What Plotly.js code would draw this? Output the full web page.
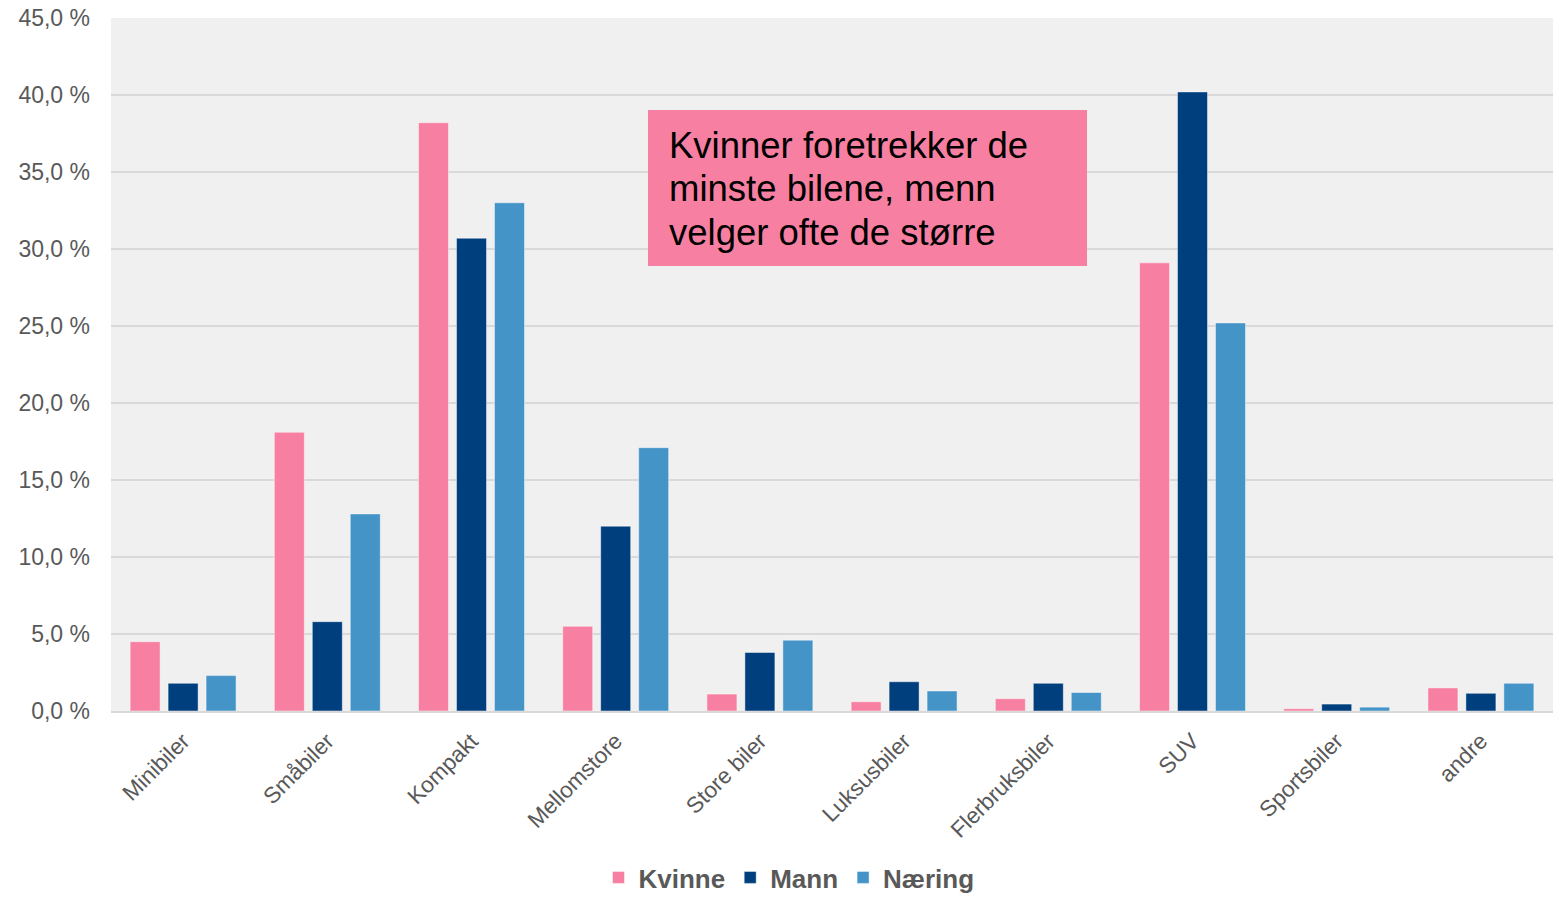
<!DOCTYPE html>
<html>
<head>
<meta charset="utf-8">
<script src="https://cdn.plot.ly/plotly-3.0.1.min.js"></script>
<style>html,body{margin:0;padding:0;background:#fff;}#chart{width:1553px;height:901px;}</style>
</head>
<body>
<div id="chart"></div>
<script>
const categories = ["Minibiler","Småbiler","Kompakt","Mellomstore","Store biler","Luksusbiler","Flerbruksbiler","SUV","Sportsbiler","andre"];
const kvinne = [4.5, 18.1, 38.2, 5.5, 1.1, 0.6, 0.8, 29.1, 0.15, 1.5];
const mann   = [1.8, 5.8, 30.7, 12.0, 3.8, 1.9, 1.8, 40.2, 0.45, 1.15];
const naering= [2.3, 12.8, 33.0, 17.1, 4.6, 1.3, 1.2, 25.2, 0.25, 1.8];
const seriesNames = ["Kvinne","Mann","Næring"];
const yTicks = [0,5,10,15,20,25,30,35,40,45];
const yTickText = yTicks.map(v => v.toFixed(1).replace(".", ",") + " %");
const annotationLines = ["Kvinner foretrekker de","minste bilene, menn","velger ofte de større"];

const colors = ["#F780A2","#003F7D","#4594C7"];
const data = [kvinne, mann, naering].map((vals,i)=>({
  type:"bar", name:seriesNames[i], x:categories, y:vals,
  marker:{color:colors[i], line:{color:"rgba(255,255,255,0.45)", width:1}},
  hoverinfo:"skip"
}));

// plot area geometry (pixels) used to place the text box
const plotTop = 18, plotBottom = 711, plotLeft = 111, plotW = 1442;
const py = p => (plotBottom - p) / (plotBottom - plotTop);
const px = p => (p - plotLeft) / plotW;

const annotations = annotationLines.map((t,i)=>({
  xref:"paper", yref:"paper", x:px(667), y:py(145 + 44*i), xanchor:"left", yanchor:"middle",
  text:t, showarrow:false, align:"left",
  font:{size:36.5, color:"#000000", family:"Liberation Sans, Arial, sans-serif"}
}));

const layout = {
  width:1553, height:901,
  margin:{l:111, r:0, t:18, b:190},
  paper_bgcolor:"#ffffff",
  plot_bgcolor:"#f0f0f0",
  font:{family:"Liberation Sans, Arial, sans-serif", color:"#595959"},
  barmode:"group",
  bargap:0.21,
  bargroupgap:0.21,
  showlegend:true,
  legend:{orientation:"h", xref:"container", yref:"container", x:789/1553, xanchor:"center",
    y:0, yanchor:"bottom",
    font:{size:26, color:"#595959", family:"Liberation Sans, Arial, sans-serif", weight:"bold"},
    itemwidth:30, traceorder:"normal"},
  xaxis:{type:"category", tickangle:-45, tickfont:{size:22.5, color:"#595959"},
    showgrid:false, showline:true, linecolor:"#d9d9d9", linewidth:2, ticks:"",
    ticklabelstandoff:6, automargin:false},
  yaxis:{range:[0,45], tickmode:"array", tickvals:yTicks, ticktext:yTickText,
    tickfont:{size:23, color:"#595959"}, gridcolor:"#d9d9d9", gridwidth:2,
    zeroline:false, showline:false, ticks:"", ticklabelstandoff:20, automargin:false},
  shapes:[{type:"rect", xref:"paper", yref:"paper", x0:px(648), x1:px(1087), y0:py(266), y1:py(110),
    fillcolor:"#F780A2", line:{width:0}, layer:"above"}],
  annotations:annotations
};
Plotly.newPlot("chart", data, layout, {displayModeBar:false, staticPlot:true});
</script>
</body>
</html>
